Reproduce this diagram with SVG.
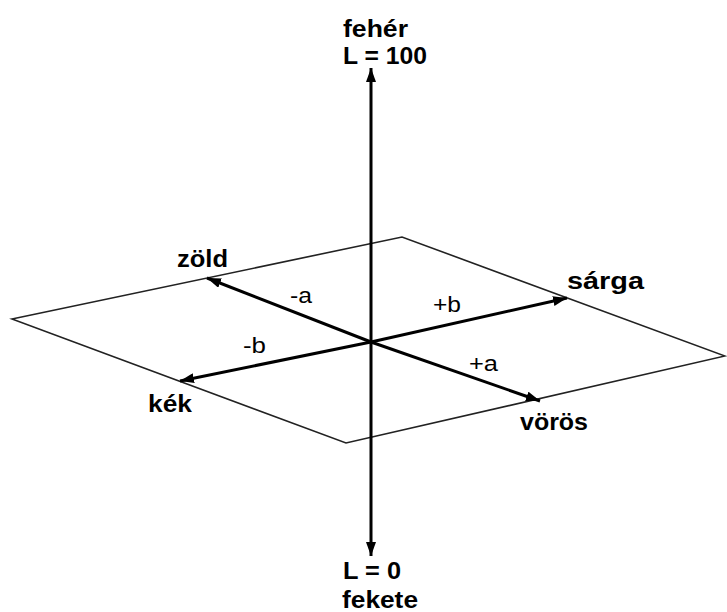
<svg xmlns="http://www.w3.org/2000/svg" width="727" height="612" viewBox="0 0 727 612">
<style>
.b{font-family:"Liberation Sans",Arial,sans-serif;font-weight:bold;font-size:23px;fill:#000}
.r{font-family:"Liberation Sans",Arial,sans-serif;font-size:22px;fill:#000}
.plane{fill:none;stroke:#222;stroke-width:1.6;stroke-linejoin:miter}
.ax{stroke:#000;stroke-width:3;fill:none}
</style>
<defs>
<marker id="ah" viewBox="0 0 14 10" refX="14" refY="5" markerWidth="14" markerHeight="10" markerUnits="userSpaceOnUse" orient="auto-start-reverse">
<path d="M0,0 L14,5 L0,10 Z" fill="#000"/>
</marker>
</defs>
<g id="plane">
<polygon class="plane" points="12,319 402,237 725,356 346,443"/>
</g>
<g id="connectors">
<line class="ax" x1="371" y1="68" x2="371" y2="556" marker-start="url(#ah)" marker-end="url(#ah)"/>
<line class="ax" x1="371" y1="342" x2="207" y2="278" marker-end="url(#ah)"/>
<line class="ax" x1="371" y1="342" x2="567" y2="298" marker-end="url(#ah)"/>
<line class="ax" x1="371" y1="342" x2="180" y2="381" marker-end="url(#ah)"/>
<line class="ax" x1="371" y1="342" x2="540" y2="401" marker-end="url(#ah)"/>
</g>
<g id="feher"><text class="b" x="343" y="37" textLength="65" lengthAdjust="spacingAndGlyphs">fehér</text>
<text class="b" x="343" y="64" textLength="84" lengthAdjust="spacingAndGlyphs">L = 100</text></g>
<g id="fekete"><text class="b" x="343" y="579" textLength="58" lengthAdjust="spacingAndGlyphs">L = 0</text>
<text class="b" x="342" y="608" textLength="76" lengthAdjust="spacingAndGlyphs">fekete</text></g>
<g id="zold"><text class="b" x="177" y="267" textLength="51" lengthAdjust="spacingAndGlyphs">zöld</text></g>
<g id="sarga"><text class="b" x="567" y="289" textLength="77" lengthAdjust="spacingAndGlyphs">sárga</text></g>
<g id="kek"><text class="b" x="148" y="412" textLength="44" lengthAdjust="spacingAndGlyphs">kék</text></g>
<g id="voros"><text class="b" x="520" y="430" textLength="68" lengthAdjust="spacingAndGlyphs">vörös</text></g>
<g id="label-ma"><text class="r" x="290" y="303" textLength="22" lengthAdjust="spacingAndGlyphs">-a</text></g>
<g id="label-pb"><text class="r" x="433" y="312" textLength="28" lengthAdjust="spacingAndGlyphs">+b</text></g>
<g id="label-mb"><text class="r" x="243" y="353" textLength="23" lengthAdjust="spacingAndGlyphs">-b</text></g>
<g id="label-pa"><text class="r" x="469" y="371" textLength="29" lengthAdjust="spacingAndGlyphs">+a</text></g>
</svg>
